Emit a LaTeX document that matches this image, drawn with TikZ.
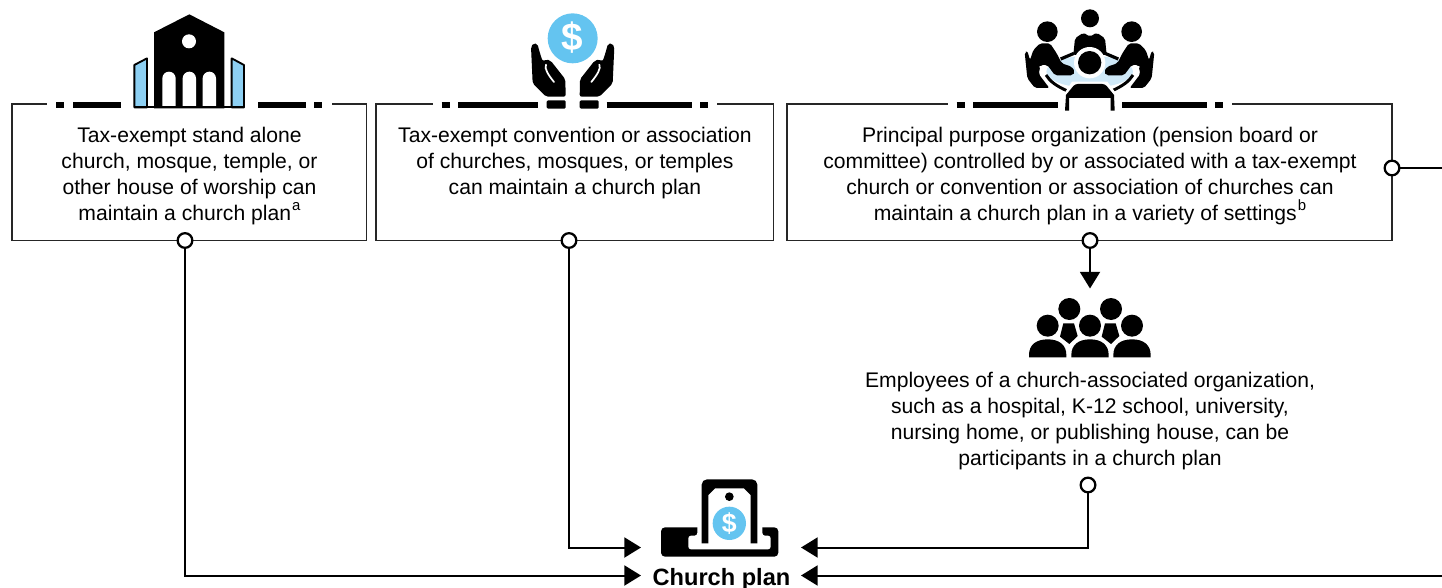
\documentclass[tikz,border=0pt]{standalone}
\usepackage{fontspec}
\setmainfont{Liberation Sans}
\usetikzlibrary{arrows.meta}
\definecolor{skyb}{HTML}{64C4F0}
\definecolor{wingb}{HTML}{8DD0F3}
\definecolor{tableb}{HTML}{CFE9F8}
\tikzset{
  boxframe/.style={draw=black!85,line width=0.95pt,fill=white,inner sep=0pt,rectangle},
  bodytext/.style={font=\fontsize{15.85}{19.5}\selectfont,align=center,anchor=north,inner sep=0pt,text depth=0pt},
  thickdash/.style={line width=3.9pt,black},
  gapcover/.style={draw=none,fill=white},
  dotend/.style={circle,draw=black,line width=1.7pt,fill=white,minimum size=11pt,inner sep=0pt},
  conn/.style={draw=black,line width=1.5pt},
  arrowconn/.style={conn,-{Triangle[length=12.5pt,width=15pt]}},
  z3/.style={x=0.25pt,y=-0.25pt},
}
\newcommand{\supnote}[1]{\raisebox{0.85ex}{\fontsize{11.2}{11.2}\selectfont\kern0.8pt #1}}
\begin{document}
\begin{tikzpicture}[x=0.75pt,y=-0.75pt]
\useasboundingbox (0,0) rectangle (1442,588);
% boxes
\node[boxframe,minimum width=354.5*0.75pt,minimum height=136.5*0.75pt] (b1) at (189.25,172.25) {};
\node[boxframe,minimum width=397.5*0.75pt,minimum height=136.5*0.75pt] (b2) at (574.75,172.25) {};
\node[boxframe,minimum width=605*0.75pt,minimum height=136.5*0.75pt] (b3) at (1089.5,172.25) {};
% gaps in the top edges
\fill[gapcover] (46.7,100) rectangle (331.7,108);
\fill[gapcover] (432.7,100) rectangle (717.3,108);
\fill[gapcover] (948.3,100) rectangle (1232,108);
% thick dashes
\foreach \a/\b in {56/64,73/120.7,258/305.7,314/322.3,441.7/450,458.3/537.7,606.7/691.7,700/708.3,956.7/965,973.3/1058.3,1122.3/1206.7,1215/1223.3}
  \draw[thickdash] (\a,105) -- (\b,105);
% texts
\node[bodytext] (t1) at (189.5,126.5) {Tax-exempt stand alone\\church, mosque, temple, or\\other house of worship can\\maintain a church plan\supnote{a}};
\node[bodytext] (t2) at (575,126.5) {Tax-exempt convention or association\\of churches, mosques, or temples\\can maintain a church plan};
\node[bodytext] (t3) at (1090,126.5) {Principal purpose organization (pension board or\\committee) controlled by or associated with a tax-exempt\\church or convention or association of churches can\\maintain a church plan in a variety of settings\supnote{b}};
\node[bodytext] (t4) at (1090,371.5) {Employees of a church-associated organization,\\such as a hospital, K-12 school, university,\\nursing home, or publishing house, can be\\participants in a church plan};
\node[font=\fontsize{17.7}{19}\bfseries,inner sep=0pt] (plan) at (721.5,579) {Church plan};
% connector ends
\node[dotend] (d1) at (185,240.5) {};
\node[dotend] (d2) at (569,240.5) {};
\node[dotend] (d3) at (1090,240.5) {};
\node[dotend] (d4) at (1392,168) {};
\node[dotend] (d5) at (1088,485) {};
\coordinate (e4) at (1442,168);
\coordinate (e6) at (1442,575.5);
\coordinate (tipa) at (641,575.5);
\coordinate (tipb) at (641,547.5);
\coordinate (tipc) at (801,547.5);
\coordinate (tipd) at (801,575.5);
\coordinate (tipe) at (1090,288.5);
\draw[arrowconn] (d1) -- (d1 |- tipa) -- (tipa);
\draw[arrowconn] (d2) -- (d2 |- tipb) -- (tipb);
\draw[arrowconn] (d5) -- (d5 |- tipc) -- (tipc);
\draw[arrowconn] (e6) -- (tipd);
\draw[arrowconn] (d3) -- (tipe);
\draw[conn] (d4) -- (e4);
% church icon
\begin{scope}[shift={(0,0)},z3]
  \fill[black] (462,97) -- (568,43) -- (673,97) -- (673,325) -- (462,325) -- cycle;
  \fill[white] (567,124) circle (21);
  \foreach \a in {487,548,608}
    \fill[white] (\a,318) -- (\a,235) arc[start angle=180,end angle=360,radius=20] -- (\a+40,318) -- cycle;
  \draw[fill=wingb,line width=1.4pt,line join=round] (403,322) -- (403,195) -- (441,175) -- (441,322) -- cycle;
  \draw[fill=wingb,line width=1.4pt,line join=round] (732,322) -- (732,195) -- (695,175) -- (695,322) -- cycle;
  \draw[line width=1.5pt] (403,322) -- (732,322);
\end{scope}
% hands icon
\begin{scope}[shift={(420,0)},z3]
  \fill[skyb] (458,115) circle (75);
  \node[text=white,font=\fontsize{29}{29}\bfseries,inner sep=0pt] (dollarA) at (458,114) {\$};
  \foreach \m/\o in {1/0,-1/916}{
    \begin{scope}[shift={(\o,0)},xscale=\m]
      \fill[black,rounded corners=1.5pt] (333,140) -- (340,130) -- (352,131) -- (360,160) -- (368,184) -- (378,178) -- (392,182) -- (436,238) -- (437,290) -- (378,290) -- (338,250) -- cycle;
      \draw[white,line width=1.3pt,line cap=round] (378,194) .. controls (372,205) and (385,225) .. (402,246);
      \fill[black,rounded corners=1pt] (380,301) rectangle (437,326);
    \end{scope}
  }
\end{scope}
% meeting icon
\begin{scope}[shift={(940,0)},z3]
  \fill[tableb] (449,215) ellipse (130 and 48);
  \fill[black] (450,55) circle (27);
  \fill[black] (322,95) circle (31);
  \fill[black] (575,95) circle (31);
  \fill[black,rounded corners=1.5pt] (400,165) -- (405,115) -- (430,98) -- (450,110) -- (470,98) -- (495,115) -- (500,165) -- (450,165) -- cycle;
  \foreach \m/\o in {1/0,-1/897}{
    \begin{scope}[shift={(\o,0)},xscale=\m]
      \fill[black,rounded corners=1.5pt] (254,157) -- (262,153) -- (270,180) -- (280,150) -- (300,130) -- (330,130) -- (350,160) -- (365,190) -- (395,200) -- (405,215) -- (398,226) -- (345,226) -- (322,195) -- (302,195) -- (296,222) -- (328,264) -- (285,264) -- (262,235) -- cycle;
      \draw[white,line width=2.6pt] (303,198) .. controls (312,240) and (345,262) .. (382,270);
      \draw[black,line width=2.2pt] (318,225) .. controls (330,245) and (350,258) .. (380,272);
      \draw[black,line width=2.4pt] (362,177) -- (402,160);
    \end{scope}
  }
  \fill[white] (449,188) circle (47);
  \fill[black] (449,188) circle (35);
  \fill[white] (366,340) -- (370,285) -- (396,245) -- (502,245) -- (532,285) -- (532,340) -- cycle;
  \fill[black] (375,332) -- (378,285) [rounded corners=2pt] -- (405,252) -- (495,252) [sharp corners] -- (522,285) -- (524,332) -- (512,332) -- (512,294) -- (387,294) -- (387,332) -- cycle;
\end{scope}
% crowd icon
\begin{scope}[shift={(1000,230)},z3]
  \foreach \c in {208,333}{
    \fill[black] (\c,237) circle (33);
    \fill[black] (\c-18,280) -- (\c+14,280) -- (\c+25,318) -- (\c,342) -- (\c-28,320) -- cycle;
  }
  \foreach \c in {143,270,396}{
    \fill[white] (\c,287) circle (39);
    \fill[black] (\c,287) circle (33);
  }
  \foreach \c in {143,270,396}{
    \fill[white] (\c-63,388) -- (\c-63,375) .. controls (\c-63,340) and (\c-35,322) .. (\c,322) .. controls (\c+35,322) and (\c+63,340) .. (\c+63,375) -- (\c+63,388) -- cycle;
    \fill[black] (\c-56,382) -- (\c-56,375) .. controls (\c-56,345) and (\c-35,328) .. (\c,328) .. controls (\c+35,328) and (\c+56,345) .. (\c+56,375) -- (\c+56,382) -- cycle;
  }
\end{scope}
% plan icon
\begin{scope}[shift={(600,470)},z3]
  \fill[black,rounded corners=3pt] (183,172) rectangle (535,260);
  \fill[white,rounded corners=2pt] (265,238) -- (265,197) -- (292,197) -- (292,160) -- (487,160) -- (487,197) -- (512,197) -- (512,238) -- cycle;
  \fill[black] (305,220) [rounded corners=4pt] -- (305,28) -- (472,28) [sharp corners] -- (472,220) -- (452,220) -- (452,75) -- (432,55) -- (345,55) -- (325,75) -- (325,220) -- cycle;
  \fill[black] (388,80) circle (13);
  \fill[skyb] (388,160) circle (50);
  \node[text=white,font=\fontsize{20}{20}\bfseries,inner sep=0pt] (dollarB) at (388,160) {\$};
\end{scope}
\end{tikzpicture}
\end{document}
